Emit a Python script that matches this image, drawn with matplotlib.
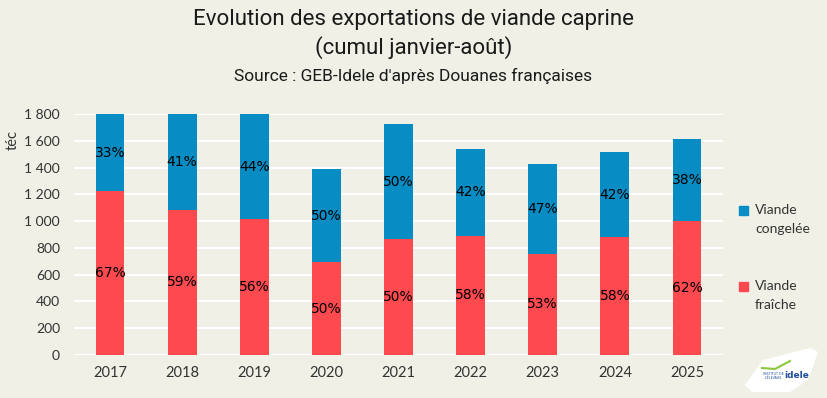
import matplotlib
matplotlib.use("Agg")
import matplotlib.pyplot as plt
from matplotlib import font_manager as fm
from matplotlib.patches import Polygon, Rectangle
import numpy as np

years = ["2017", "2018", "2019", "2020", "2021", "2022", "2023", "2024", "2025"]
fraiche = [1224, 1085, 1015, 694, 864, 891, 755, 879, 1000]
congelee = [606, 755, 795, 694, 860, 646, 670, 636, 612]
pct_fraiche = ["67%", "59%", "56%", "50%", "50%", "58%", "53%", "58%", "62%"]
pct_congelee = ["33%", "41%", "44%", "50%", "50%", "42%", "47%", "42%", "38%"]
yticks = [0, 200, 400, 600, 800, 1000, 1200, 1400, 1600, 1800]
ytick_labels = ["0", "200", "400", "600", "800", "1 000", "1 200", "1 400", "1 600", "1 800"]

BG = "#f0f0e7"
BLUE = "#078dc3"
RED = "#fe4a4e"

avail = {f.name for f in fm.fontManager.ttflist}
title_font = "Liberation Sans Narrow" if "Liberation Sans Narrow" in avail else "Roboto"

fig = plt.figure(figsize=(8.27, 3.98), dpi=100, facecolor=BG)
ax = fig.add_axes([74/827, 1-355/398, 649/827, 241/398], facecolor=BG)

x = np.arange(len(years))
b1 = ax.bar(x, fraiche, width=0.4, color=RED, zorder=3)
b2 = ax.bar(x, congelee, width=0.4, bottom=fraiche, color=BLUE, zorder=3)
ax.bar_label(b1, labels=pct_fraiche, label_type="center", fontsize=10, color="black", family="DejaVu Sans")
ax.bar_label(b2, labels=pct_congelee, label_type="center", fontsize=10, color="black", family="DejaVu Sans")

ax.set_xlim(-0.5, len(years) - 0.5)
ax.set_ylim(0, 1800)
ax.set_yticks(yticks)
ax.set_yticklabels(ytick_labels, family="Lato", fontsize=10, color="#333333")
ax.set_xticks(x)
ax.set_xticklabels(years, family="Lato", fontsize=10.5, color="#333333")
ax.tick_params(length=0, pad=8)
ax.tick_params(axis="y", pad=10)
ax.grid(axis="y", color="white", linewidth=1.5, zorder=0)
ax.set_axisbelow(True)
for s in ax.spines.values():
    s.set_visible(False)

fig.text(13/827, 1-140/398, "téc", rotation=90, ha="center", va="center", family="Lato", fontsize=10.5, color="#333333")

fig.text(0.5, 1-20/398, "Evolution des exportations de viande caprine", ha="center", va="center",
         family=title_font, fontsize=16, color="#1a1a1a")
fig.text(0.5, 1-48/398, "(cumul janvier-août)", ha="center", va="center",
         family=title_font, fontsize=16, color="#1a1a1a")
fig.text(0.5, 1-76/398, "Source : GEB-Idele d'après Douanes françaises", ha="center", va="center",
         family=title_font, fontsize=12.5, color="#1a1a1a")

# legend
fig.patches.append(Rectangle((739/827, 1-215/398), 9/827, 9/398, transform=fig.transFigure, color=BLUE))
fig.text(755/827, 1-210/398, "Viande", va="center", family="Lato", fontsize=10, color="#333333")
fig.text(755/827, 1-229/398, "congelée", va="center", family="Lato", fontsize=10, color="#333333")
fig.patches.append(Rectangle((739/827, 1-291/398), 9/827, 9/398, transform=fig.transFigure, color=RED))
fig.text(755/827, 1-286/398, "Viande", va="center", family="Lato", fontsize=10, color="#333333")
fig.text(755/827, 1-305/398, "fraîche", va="center", family="Lato", fontsize=10, color="#333333")

# logo
logo = Polygon([(745/827, 1-385/398), (763/827, 1-360/398), (810/827, 1-348/398), (818/827, 1-352/398),
                (808/827, 1-380/398), (790/827, 1-392/398), (752/827, 1-392/398)],
               closed=True, transform=fig.transFigure, facecolor="white", edgecolor="none")
fig.patches.append(logo)
fig.text(797/827, 1-376/398, "idele", ha="center", va="center", family="DejaVu Sans", fontsize=6.5,
         fontweight="bold", color="#1f4e9c")
fig.text(773/827, 1-376/398, "INSTITUT DE\nL'ÉLEVAGE", ha="center", va="center", family="DejaVu Sans",
         fontsize=2.3, color="#1f4e9c")
fig.lines.append(plt.Line2D([762/827, 775/827, 790/827], [1-368/398, 1-369/398, 1-361/398],
                            transform=fig.transFigure, color="#8cc63f", linewidth=1.5))

fig.savefig("out.png", dpi=100, facecolor=BG)
